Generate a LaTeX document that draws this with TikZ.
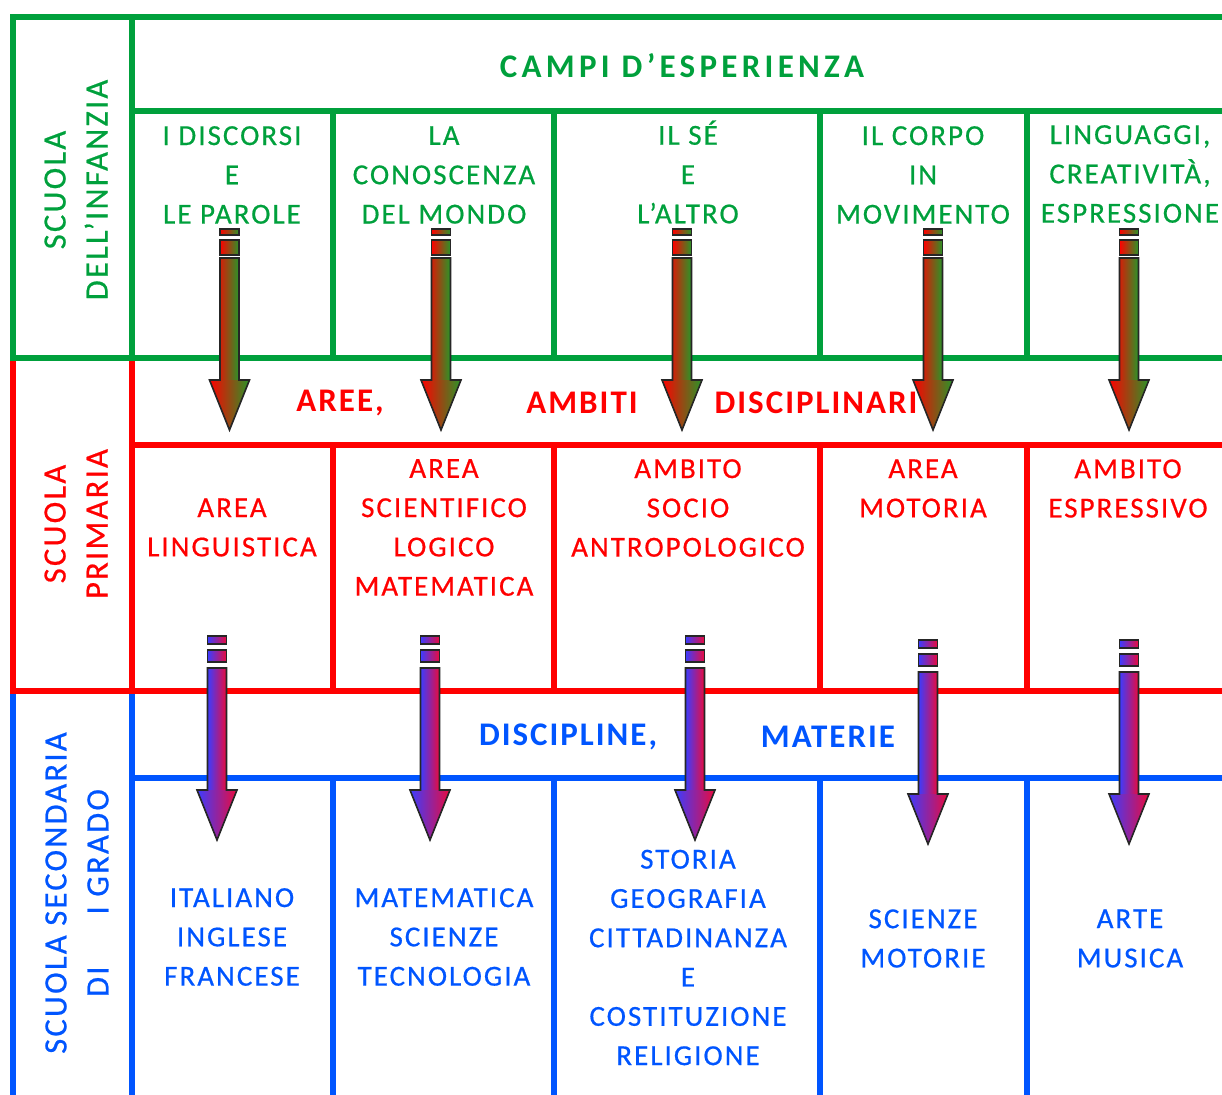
\documentclass[tikz,border=0pt]{standalone}
\usepackage{fontspec}
\setmainfont{Carlito}
\newfontfamily\cellfont[LetterSpace=7, FakeBold=0.6]{Carlito}
\newfontfamily\headfont[LetterSpace=6]{Carlito}
\newfontfamily\wideheadfont[LetterSpace=13]{Carlito}
\usepackage{tikz}
\usetikzlibrary{positioning}

\definecolor{infgreen}{RGB}{0,160,60}
\definecolor{primred}{RGB}{255,0,0}
\definecolor{secblue}{RGB}{0,85,255}
\definecolor{arrgreen}{RGB}{40,150,40}
\definecolor{arrblue}{RGB}{60,60,255}
\definecolor{arrred}{RGB}{235,10,60}

\tikzset{
  rule/.style={line width=6.5pt},
  celltext/.style={align=center, inner sep=0pt, font=\cellfont\fontsize{29}{39.3}\selectfont},
  headtext/.style={inner sep=0pt, font=\headfont\bfseries\fontsize{33}{40}\selectfont},
  sidetext/.style={align=center, inner sep=0pt, rotate=90, font=\cellfont\fontsize{32.5}{42}\selectfont},
  outline/.style={draw=black!85, line width=1.6pt},
}

\begin{document}
\begin{tikzpicture}[x=1pt, y=-1pt]
        \useasboundingbox (0,0) rectangle (1222,1094);
        \clip (0,0) rectangle (1222,1094);

        % scuola secondaria
        \draw[rule, secblue] (13,691) -- (13,1100);
        \draw[rule, secblue] (132,691) -- (132,1100);
        \draw[rule, secblue] (132,778) -- (1240,778);
        \foreach \x in {333, 554, 820, 1027}
        \draw[rule, secblue] (\x,778) -- (\x,1100);

        % scuola primaria
        \draw[rule, primred] (13,358) -- (13,691);
        \draw[rule, primred] (132,358) -- (132,691);
        \draw[rule, primred] (10,691) -- (1240,691);
        \draw[rule, primred] (132,445) -- (1240,445);
        \foreach \x in {333, 554, 820, 1027}
        \draw[rule, primred] (\x,445) -- (\x,691);

        % scuola dell'infanzia
        \draw[rule, infgreen] (13,358) -- (13,17) -- (1240,17);
        \draw[rule, infgreen] (132,17) -- (132,358);
        \draw[rule, infgreen] (132,111) -- (1240,111);
        \draw[rule, infgreen] (10,358) -- (1240,358);
        \foreach \x in {333, 554, 820, 1027}
        \draw[rule, infgreen] (\x,111) -- (\x,358);

        % left column
        \node[sidetext, infgreen] (infanzia) at (76,190) {SCUOLA\\DELL’INFANZIA};
        \node[sidetext, primred] (primaria) at (76,524) {SCUOLA\\PRIMARIA};
        \node[sidetext, secblue] (secondaria) at (77,893) {SCUOLA SECONDARIA\\DI\hspace{52pt}I GRADO};

        % campi
        \node[inner sep=0pt, font=\wideheadfont\bfseries\fontsize{33}{40}\selectfont, infgreen] (campi) at (682,66) {CAMPI D’ESPERIENZA};
        \node[celltext, infgreen] (discorsi) at (232,175) {I DISCORSI\\E\\LE PAROLE};
        \node[celltext, infgreen] (conoscenza) at (444,175) {LA\\CONOSCENZA\\DEL MONDO};
        \node[celltext, infgreen] (altro) at (688,172) {IL SÉ\\E\\L’ALTRO};
        \node[celltext, infgreen] (corpo) at (923,175) {IL CORPO\\IN\\MOVIMENTO};
        \node[celltext, infgreen] (linguaggi) at (1130,174) {LINGUAGGI,\\CREATIVITÀ,\\ESPRESSIONE};

        % aree e ambiti
        \node[headtext, primred] (aree) at (340,403) {AREE,};
        \node[headtext, primred] (ambiti) at (582,403) {AMBITI};
        \node[headtext, primred] (disciplinari) at (816,403) {DISCIPLINARI};
        \node[celltext, primred] (linguistica) at (232,527.5) {AREA\\LINGUISTICA};
        \node[celltext, primred] (scientifico) at (444,527.5) {AREA\\SCIENTIFICO\\LOGICO\\MATEMATICA};
        \node[celltext, primred] (socio) at (688,508) {AMBITO\\SOCIO\\ANTROPOLOGICO};
        \node[celltext, primred] (motoria) at (923,488.5) {AREA\\MOTORIA};
        \node[celltext, primred] (espressivo) at (1128,488.5) {AMBITO\\ESPRESSIVO};

        % discipline
        \node[headtext, secblue] (discipline) at (568,737) {DISCIPLINE,};
        \node[headtext, secblue] (materie) at (828,737) {MATERIE};
        \node[celltext, secblue] (italiano) at (232,937) {ITALIANO\\INGLESE\\FRANCESE};
        \node[celltext, secblue] (matematica) at (444,937) {MATEMATICA\\SCIENZE\\TECNOLOGIA};
        \node[celltext, secblue] (storia) at (688,957.5) {STORIA\\GEOGRAFIA\\CITTADINANZA\\E\\COSTITUZIONE\\RELIGIONE};
        \node[celltext, secblue] (scienze) at (923,938.5) {SCIENZE\\MOTORIE};
        \node[celltext, secblue] (arte) at (1130,938.5) {ARTE\\MUSICA};

        % arrows campi -> aree
        \foreach \x in {229.5, 441, 682, 933, 1129} {
        \shade[left color=primred, right color=arrgreen] (\x-9.5,229) rectangle (\x+9.5,235);
        \shade[left color=primred, right color=arrgreen] (\x-9.5,240) rectangle (\x+9.5,255);
        \shade[left color=primred!80!arrgreen, right color=arrgreen] (\x-9.5,258) rectangle (\x+9.5,381);
        \shade[left color=primred, right color=arrgreen] (\x-20,380) -- (\x,430) -- (\x+20,380) -- cycle;
        \draw[outline] (\x-9.5,229) rectangle (\x+9.5,235);
        \draw[outline] (\x-9.5,240) rectangle (\x+9.5,255);
        \draw[outline] (\x-9.5,258) -- (\x-9.5,380) -- (\x-20,380) -- (\x,430) -- (\x+20,380) -- (\x+9.5,380) -- (\x+9.5,258) -- cycle;
        }

        % arrows aree -> discipline
        \foreach \x/\t in {217/636, 430/636, 695/636, 928/640, 1129/640} {
        \shade[left color=arrblue, right color=arrred] (\x-9.5,\t) rectangle (\x+9.5,\t+8);
        \shade[left color=arrblue, right color=arrred] (\x-9.5,\t+14) rectangle (\x+9.5,\t+26);
        \shade[left color=arrblue, right color=arrred] (\x-9.5,\t+32) rectangle (\x+9.5,\t+155);
        \shade[left color=arrblue, right color=arrred] (\x-20,\t+154) -- (\x,\t+204) -- (\x+20,\t+154) -- cycle;
        \draw[outline] (\x-9.5,\t) rectangle (\x+9.5,\t+8);
        \draw[outline] (\x-9.5,\t+14) rectangle (\x+9.5,\t+26);
        \draw[outline] (\x-9.5,\t+32) -- (\x-9.5,\t+154) -- (\x-20,\t+154) -- (\x,\t+204) -- (\x+20,\t+154) -- (\x+9.5,\t+154) -- (\x+9.5,\t+32) -- cycle;
        }
    \end{tikzpicture}
\end{document}
